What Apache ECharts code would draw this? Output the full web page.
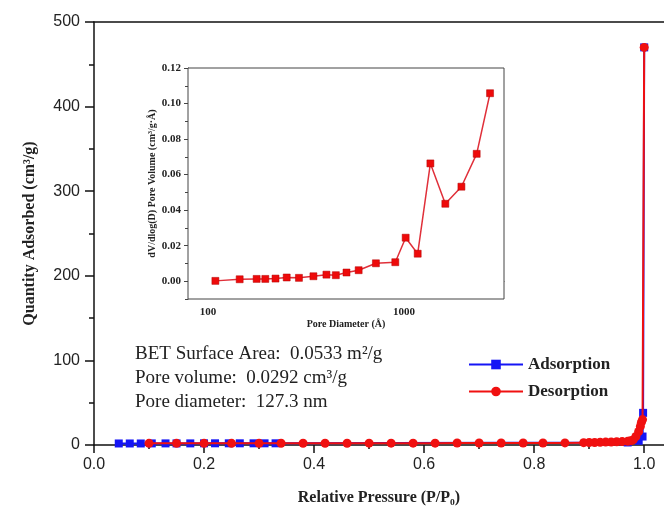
<!DOCTYPE html>
<html>
<head>
<meta charset="utf-8">
<script src="https://cdn.jsdelivr.net/npm/echarts@6/dist/echarts.min.js"></script>
<style>
  html, body { margin: 0; padding: 0; background: #fff; }
  #chart { width: 664px; height: 515px; }
</style>
</head>
<body>
<div id="chart"></div>
<script>
// isotherm data (P/P0, cm3/g)
var adsX = [0.045, 0.065, 0.085, 0.105, 0.13, 0.15, 0.175, 0.20, 0.22, 0.245, 0.265, 0.29, 0.31, 0.33, 0.97, 0.99, 0.997, 0.998, 1.0];
var adsY = [1.8, 1.8, 1.8, 1.9, 1.9, 1.9, 1.9, 2.0, 2.0, 2.0, 2.0, 2.0, 2.0, 2.0, 3, 5, 10, 38, 470];
var desX = [1.0, 0.997, 0.995, 0.993, 0.99, 0.985, 0.98, 0.975, 0.97, 0.96, 0.95, 0.94, 0.93, 0.92, 0.91, 0.90, 0.89,
            0.856, 0.816, 0.78, 0.74, 0.70, 0.66, 0.62, 0.58, 0.54, 0.50, 0.46, 0.42, 0.38, 0.34, 0.30, 0.25, 0.20, 0.15, 0.10];
var desY = [470, 30, 27, 22, 16, 10, 6, 5, 4.3, 4, 3.8, 3.6, 3.4, 3.2, 3.0, 2.9, 2.8,
            2.5, 2.4, 2.4, 2.3, 2.3, 2.3, 2.2, 2.2, 2.2, 2.2, 2.1, 2.1, 2.1, 2.1, 2.0, 2.0, 2.0, 2.0, 2.0];

// pore size distribution (inset)
var poreD = [109, 145, 177, 196, 221, 252, 291, 345, 402, 449, 509, 587, 719, 903, 1020, 1175, 1364, 1626, 1964, 2350, 2750];
var poreV = [0.0002, 0.0011, 0.0013, 0.0013, 0.0015, 0.0021, 0.0019, 0.0028, 0.0037, 0.0034, 0.0049, 0.0062, 0.0101, 0.0107,
             0.0245, 0.0155, 0.0663, 0.0436, 0.0532, 0.0717, 0.1058];

var mainTicks = [0, 0.2, 0.4, 0.6, 0.8, 1.0];
var mainMinorTicks = [0.1, 0.3, 0.5, 0.7, 0.9];
var insetYTicks = [0, 0.02, 0.04, 0.06, 0.08, 0.10, 0.12];
var insetYMinor = [-0.01, 0.01, 0.03, 0.05, 0.07, 0.09, 0.11];
var insetXTicks = [100, 1000];
var insetXMinor = [80, 90, 200, 300, 400, 500, 600, 700, 800, 900, 2000, 3000];

function pairs(xs, ys) {
    return xs.map(function (x, i) { return [x, ys[i]]; });
}

var serif = '"Liberation Serif", "Times New Roman", serif';
var sans = '"Liberation Sans", Arial, sans-serif';

var chart = echarts.init(document.getElementById('chart'));
var option = {
    animation: false,
    backgroundColor: '#fff',
    grid: [
        {left: 94, top: 22, right: 0, bottom: 70},
        {left: 188, top: 68, width: 316, height: 231, show: true, borderColor: '#444', borderWidth: 1, backgroundColor: '#fff', z: 5}
    ],
    legend: {
        orient: 'vertical',
        left: 463,
        top: 351,
        itemWidth: 54,
        itemHeight: 12,
        itemGap: 10,
        data: ['Adsorption', 'Desorption'],
        textStyle: {fontFamily: serif, fontWeight: 'bold', fontSize: 17, color: '#222'}
    },
    xAxis: [
        {
            gridIndex: 0, type: 'value', min: 0, max: 1.036,
            name: 'Relative Pressure (P/P\u2080)', nameLocation: 'middle', nameGap: 45,
            nameTextStyle: {fontFamily: serif, fontWeight: 'bold', fontSize: 16, color: '#222'},
            axisLine: {onZero: false, lineStyle: {color: '#111', width: 1.5}},
            axisTick: {customValues: mainTicks, length: 8, lineStyle: {color: '#111', width: 1.5}},
            axisLabel: {customValues: mainTicks, margin: 12, fontFamily: sans, fontSize: 16, color: '#222',
                formatter: function (v) { return v.toFixed(1); }},
            splitLine: {show: false}
        },
        {
            gridIndex: 0, type: 'value', min: 0, max: 1.036, position: 'bottom',
            axisLine: {show: false, onZero: false},
            axisTick: {customValues: mainMinorTicks, length: 4, lineStyle: {color: '#111', width: 1.5}},
            axisLabel: {show: false},
            splitLine: {show: false}
        },
        {
            gridIndex: 0, type: 'value', min: 0, max: 1.036, position: 'top',
            axisLine: {onZero: false, lineStyle: {color: '#111', width: 1.5}},
            axisTick: {show: false},
            axisLabel: {show: false},
            splitLine: {show: false}
        },
        {
            gridIndex: 1, type: 'log', logBase: 10, min: 79, max: 3240,
            name: 'Pore Diameter (\u00c5)', nameLocation: 'middle', nameGap: 20,
            nameTextStyle: {fontFamily: serif, fontWeight: 'bold', fontSize: 10, color: '#222'},
            axisLine: {lineStyle: {color: '#444', width: 1}},
            axisTick: {customValues: insetXTicks, length: 4, lineStyle: {color: '#444'}},
            axisLabel: {customValues: insetXTicks, margin: 8, fontFamily: serif, fontWeight: 'bold', fontSize: 11, color: '#222',
                formatter: function (v) { return String(Math.round(v)); }},
            splitLine: {show: false}
        },
        {
            gridIndex: 1, type: 'log', logBase: 10, min: 79, max: 3240, position: 'bottom',
            axisLine: {show: false},
            axisTick: {customValues: insetXMinor, length: 3, lineStyle: {color: '#444'}},
            axisLabel: {show: false},
            splitLine: {show: false}
        }
    ],
    yAxis: [
        {
            gridIndex: 0, type: 'value', min: 0, max: 500, interval: 100,
            name: 'Quantity Adsorbed (cm\u00b3/g)', nameLocation: 'middle', nameGap: 56,
            nameTextStyle: {fontFamily: serif, fontWeight: 'bold', fontSize: 16, color: '#222'},
            axisLine: {show: true, lineStyle: {color: '#111', width: 1.5}},
            axisTick: {show: true, length: 9, lineStyle: {color: '#111', width: 1.5}},
            minorTick: {show: true, splitNumber: 2, length: 5, lineStyle: {color: '#111', width: 1.5}},
            axisLabel: {margin: 14, fontFamily: sans, fontSize: 16, color: '#222'},
            splitLine: {show: false}
        },
        {
            gridIndex: 1, type: 'value', min: -0.01, max: 0.12,
            name: 'dV/dlog(D) Pore Volume (cm\u00b3/g\u00b7\u00c5)', nameLocation: 'middle', nameGap: 31,
            nameTextStyle: {fontFamily: serif, fontWeight: 'bold', fontSize: 10, color: '#222'},
            axisLine: {show: true, lineStyle: {color: '#444', width: 1}},
            axisTick: {show: true, customValues: insetYTicks, length: 4, lineStyle: {color: '#444'}},
            axisLabel: {customValues: insetYTicks, margin: 7, fontFamily: serif, fontWeight: 'bold', fontSize: 11, color: '#222',
                formatter: function (v) { return v.toFixed(2); }},
            splitLine: {show: false}
        },
        {
            gridIndex: 1, type: 'value', min: -0.01, max: 0.12, position: 'left',
            axisLine: {show: false},
            axisTick: {show: true, customValues: insetYMinor, length: 3, lineStyle: {color: '#444'}},
            axisLabel: {show: false},
            splitLine: {show: false}
        }
    ],
    series: [
        {
            name: 'Adsorption', type: 'line', xAxisIndex: 0, yAxisIndex: 0,
            data: pairs(adsX, adsY),
            symbol: 'rect', symbolSize: 8,
            lineStyle: {color: '#1515f5', width: 2},
            itemStyle: {color: '#1515f5'},
            z: 2
        },
        {
            name: 'Desorption', type: 'line', xAxisIndex: 0, yAxisIndex: 0,
            data: pairs(desX, desY),
            symbol: 'circle', symbolSize: 9,
            lineStyle: {color: '#f01010', width: 2},
            itemStyle: {color: '#f01010'},
            z: 3
        },
        {
            name: 'PSD', type: 'line', xAxisIndex: 3, yAxisIndex: 1,
            data: pairs(poreD, poreV),
            symbol: 'rect', symbolSize: 7,
            lineStyle: {color: '#e0303a', width: 1.5},
            itemStyle: {color: '#ee0a0a', borderColor: '#b00000', borderWidth: 0.5},
            z: 10
        }
    ],
    graphic: [
        {
            type: 'text', left: 135, top: 342, z: 20,
            style: {
                text: 'BET Surface Area:  0.0533 m\u00b2/g\nPore volume:  0.0292 cm\u00b3/g\nPore diameter:  127.3 nm',
                fontFamily: serif, fontSize: 19, lineHeight: 24, fill: '#222'
            }
        }
    ]
};
chart.setOption(option);
</script>
</body>
</html>
